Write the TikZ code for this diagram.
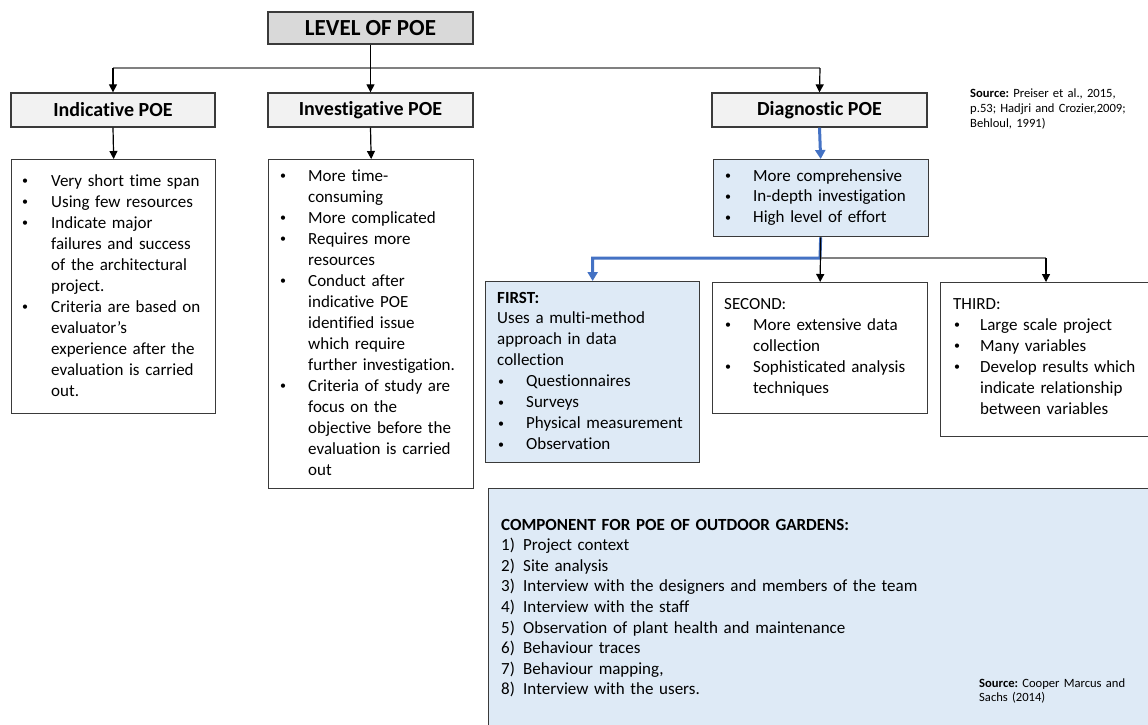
\documentclass[tikz,border=0pt]{standalone}
\usepackage{fontspec}
\setmainfont[Ligatures=NoCommon]{Carlito}
\usetikzlibrary{arrows.meta}
\frenchspacing

\definecolor{hdrgray}{HTML}{D9D9D9}
\definecolor{subgray}{HTML}{F2F2F2}
\definecolor{paleblue}{HTML}{DEEAF6}
\definecolor{linkblue}{HTML}{4472C4}
\definecolor{edgegray}{HTML}{3A3A3A}
\definecolor{railgray}{HTML}{808080}

% bullet / continuation / numbered-line helpers
\newcommand\bu[1]{\makebox[#1pt][l]{\hspace*{1pt}{\fontsize{12}{12}\selectfont\raisebox{1.2pt}{\textbullet}}}}
\newcommand\ind[1]{\hspace*{#1pt}}
\newcommand\nm[1]{\makebox[22pt][l]{#1)}}

\begin{document}
\begin{tikzpicture}[x=1pt,y=-1pt,
  frame/.style={draw=edgegray, line width=1.3pt},
  titlebox/.style={frame, fill=hdrgray, font=\bfseries\fontsize{23}{27}\selectfont,
    minimum width=205, minimum height=32, inner sep=0pt},
  headbox/.style={frame, fill=subgray, font=\bfseries\fontsize{20}{24}\selectfont,
    minimum height=34, inner sep=0pt},
  txt/.style={anchor=base west, inner sep=0pt, text width=#1, align=left,
    font=\fontsize{17}{21}\selectfont},
  txt/.default=240pt,
  srctxt/.style={anchor=base west, inner sep=0pt, text width=200pt, align=left,
    font=\fontsize{12.6}{15}\selectfont},
  link/.style={black, line width=1.2pt, -{Triangle[width=8pt,length=8pt]}},
  bluelink/.style={linkblue, line width=3pt},
  bluetip/.style={bluelink, -{Triangle[width=10pt,length=9pt]}},
  rail/.style={railgray, line width=2.2pt},
]
\useasboundingbox (0,0) rectangle (1148,724);
\clip (0,0) rectangle (1148,724);
\fill[white] (0,0) rectangle (1148,724);

% ---- headers ----
\node[titlebox] (lvl) at (370.5,28) {LEVEL OF POE};
\node[headbox, minimum width=204] (ind) at (113,110) {Indicative POE};
\node[headbox, minimum width=205] (inv) at (370.5,110) {Investigative POE};
\node[headbox, minimum width=215] (dia) at (819.5,110) {Diagnostic POE};

% ---- content boxes ----
\node[frame, anchor=north west, minimum width=204, minimum height=254] (indbox) at (11,159) {};
\node[frame, anchor=north west, minimum width=205, minimum height=329] (invbox) at (268,159) {};
\node[frame, fill=paleblue, anchor=north west, minimum width=215, minimum height=77] (diabox) at (712.5,159) {};
\node[frame, fill=paleblue, anchor=north west, minimum width=214, minimum height=181] (first) at (485,281) {};
\node[frame, anchor=north west, minimum width=215, minimum height=131] (second) at (712,282) {};
\node[frame, anchor=north west, minimum width=240, minimum height=154] (third) at (940,282) {};
\node[frame, fill=paleblue, anchor=north west, minimum width=700, minimum height=260] (garden) at (488,488) {};

% ---- texts ----
\node[txt] (indtxt) at (21,186) {%
\bu{30}Very short time span\\
\bu{30}Using few resources\\
\bu{30}Indicate major\\
\ind{30}failures and success\\
\ind{30}of the architectural\\
\ind{30}project.\\
\bu{30}Criteria are based on\\
\ind{30}evaluator’s\\
\ind{30}experience after the\\
\ind{30}evaluation is carried\\
\ind{30}out.};

\node[txt] (invtxt) at (279,181) {%
\bu{29}More time-\\
\ind{29}consuming\\
\bu{29}More complicated\\
\bu{29}Requires more\\
\ind{29}resources\\
\bu{29}Conduct after\\
\ind{29}indicative POE\\
\ind{29}identified issue\\
\ind{29}which require\\
\ind{29}further investigation.\\
\bu{29}Criteria of study are\\
\ind{29}focus on the\\
\ind{29}objective before the\\
\ind{29}evaluation is carried\\
\ind{29}out};

\node[txt, font=\fontsize{17}{20.6}\selectfont] (diatxt) at (724,181) {%
\bu{29}More comprehensive\\
\bu{29}In-depth investigation\\
\bu{29}High level of effort};

\node[txt, font=\fontsize{17}{20.9}\selectfont] (firsttxt) at (497,303) {%
\textbf{FIRST:}\\
Uses a multi-method\\
approach in data\\
collection\\
\bu{29}Questionnaires\\
\bu{29}Surveys\\
\bu{29}Physical measurement\\
\bu{29}Observation};

\node[txt] (secondtxt) at (724,309) {%
SECOND:\\
\bu{29}More extensive data\\
\ind{29}collection\\
\bu{29}Sophisticated analysis\\
\ind{29}techniques};

\node[txt] (thirdtxt) at (953,309) {%
THIRD:\\
\bu{27}Large scale project\\
\bu{27}Many variables\\
\bu{27}Develop results which\\
\ind{27}indicate relationship\\
\ind{27}between variables};

\node[txt=500pt, font=\fontsize{17}{20.6}\selectfont] (gardentxt) at (501,530) {%
\textbf{COMPONENT FOR POE OF OUTDOOR GARDENS:}\\
\nm{1}Project context\\
\nm{2}Site analysis\\
\nm{3}Interview with the designers and members of the team\\
\nm{4}Interview with the staff\\
\nm{5}Observation of plant health and maintenance\\
\nm{6}Behaviour traces\\
\nm{7}Behaviour mapping,\\
\nm{8}Interview with the users.};

\node[srctxt] (src1) at (970,97) {%
\textbf{Source:} Preiser et al., 2015,\\
p.53; Hadjri and Crozier,2009;\\
Behloul, 1991)};

\node[srctxt, font=\fontsize{12.6}{14.5}\selectfont] (src2) at (979,687) {%
\textbf{Source:} Cooper Marcus and\\
Sachs (2014)};

% ---- connectors ----
\coordinate (railL) at (113,68);
\coordinate (railR) at (820,68);
\coordinate (fork) at (820,258);
\coordinate (forkR) at (1046,258);

\draw[rail] (railL) -- (railR);
\draw[link] (lvl.south) -- (inv.north);
\draw[link] (railL) -- (ind.north);
\draw[link] (railR) -- (dia.north);
\draw[link] (ind.south) -- (indbox.north);
\draw[link] (inv.south) -- (invbox.north);
\draw[bluetip] (dia.south) -- (diabox.north);

\draw[bluelink] (diabox.south) -- (fork) -| ([yshift=9pt]first.north);
\draw[bluetip] ([yshift=10pt]first.north) -- (first.north);
\draw[rail] (fork) -- (forkR);
\draw[link] (diabox.south) -- (second.north);
\draw[link] (forkR) -- (forkR |- third.north);
\end{tikzpicture}
\end{document}
